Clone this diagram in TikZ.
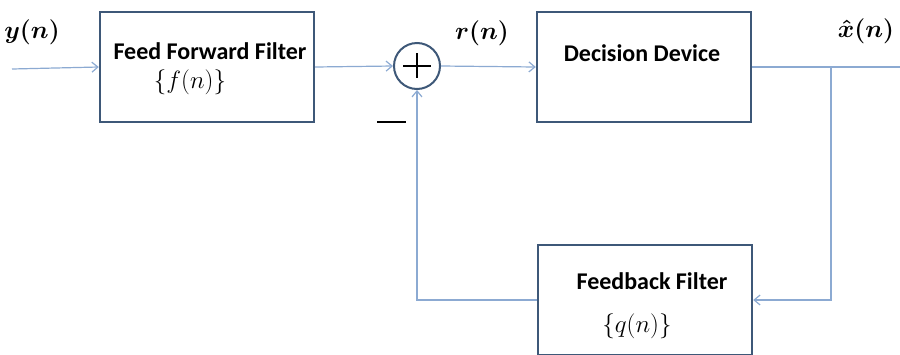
\RequirePackage{fix-cm}
\documentclass[tikz,border=0pt]{standalone}
\usepackage{fontspec}
\setmainfont{Carlito}
\usetikzlibrary{arrows.meta}
\definecolor{linkblue}{RGB}{140,170,210}
\definecolor{boxgray}{RGB}{62,88,120}

\begin{document}
\begin{tikzpicture}[x=1pt,y=-1pt,
    blk/.style={draw=boxgray,line width=2.4pt,minimum width=214pt,minimum height=110pt,inner sep=0pt},
    lnk/.style={draw=linkblue,line width=1.2pt},
    arr/.style={lnk,-{Straight Barb[length=6pt,width=10pt]}},
    lbl/.style={font=\fontsize{24}{26}\selectfont\bfseries},
    sig/.style={font=\fontsize{25}{27}\selectfont\boldmath},
    seq/.style={font=\fontsize{25}{27}\selectfont}]
    \useasboundingbox (0,0) rectangle (900,354);
    % blocks
    \node[blk] (ff) at (207,67) {};
    \node[blk] (dd) at (644,67) {};
    \node[blk] (fb) at (645,300) {};
    \node[circle,draw=boxgray,line width=2pt,minimum size=46pt,inner sep=0pt] (sum) at (417,66) {};
    \draw[line width=2.2pt] (sum.center) ++(-14,0) -- ++(28,0);
    \draw[line width=2.2pt] (sum.center) ++(0,-13) -- ++(0,25);
    % texts
    \node[lbl] at (210,51) {Feed Forward Filter};
    \node[seq] at (190,82) {$\{f(n)\}$};
    \node[lbl] at (642,53) {Decision Device};
    \node[lbl] at (652,281) {Feedback Filter};
    \node[seq] at (637,326) {$\{q(n)\}$};
    \node[sig] (yn) at (32,32) {$y(n)$};
    \node[sig] (rn) at (482,33) {$r(n)$};
    \node[sig] (xn) at (866,31) {$\hat{x}(n)$};
    \draw[line width=2pt] (377,122) -- (406,122);
    % connectors
    \coordinate (in) at (12,69);
    \coordinate (out) at (900,67);
    \coordinate (tap) at (831,67);
    \draw[arr] (in) -- (ff.west);
    \draw[arr] (ff.east) -- (sum.west);
    \draw[arr] (sum.east) -- (dd.west);
    \draw[lnk] (dd.east) -- (out);
    \draw[arr] (tap) |- (fb.east);
    \draw[arr] (fb.west) -| (sum.south);
\end{tikzpicture}
\end{document}
